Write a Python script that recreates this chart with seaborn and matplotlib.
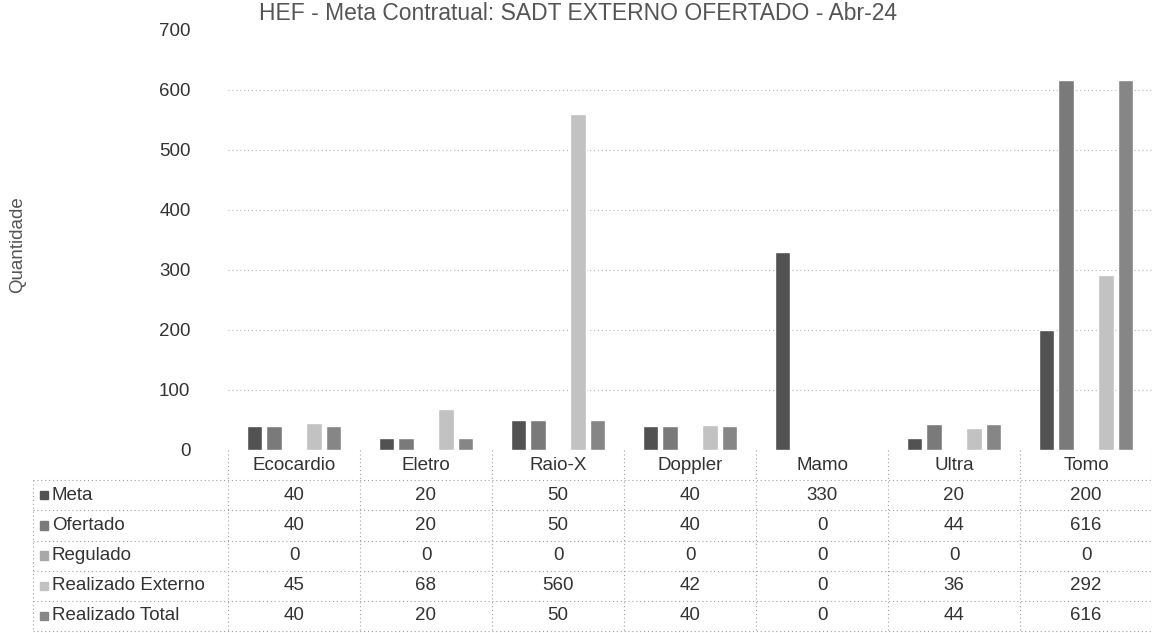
import matplotlib
matplotlib.use("Agg")
import matplotlib.pyplot as plt
import seaborn as sns
import pandas as pd
from matplotlib.patches import Rectangle

categories = ["Ecocardio", "Eletro", "Raio-X", "Doppler", "Mamo", "Ultra", "Tomo"]
series = ["Meta", "Ofertado", "Regulado", "Realizado Externo", "Realizado Total"]
meta = [40, 20, 50, 40, 330, 20, 200]
ofertado = [40, 20, 50, 40, 0, 44, 616]
regulado = [0, 0, 0, 0, 0, 0, 0]
realizado_externo = [45, 68, 560, 42, 0, 36, 292]
realizado_total = [40, 20, 50, 40, 0, 44, 616]
yticks = [0, 100, 200, 300, 400, 500, 600, 700]
title = "HEF - Meta Contratual: SADT EXTERNO OFERTADO - Abr-24"
ylabel = "Quantidade"

values = [meta, ofertado, regulado, realizado_externo, realizado_total]
colors = ["#525252", "#7a7a7a", "#a8a8a8", "#c2c2c2", "#868686"]

rows = []
for s, vals in zip(series, values):
    for c, v in zip(categories, vals):
        rows.append({"Categoria": c, "Serie": s, "Valor": v})
df = pd.DataFrame(rows)

sns.set_theme(style="white")
plt.rcParams["font.family"] = ["Liberation Sans", "DejaVu Sans"]

FS = 13.5
TXT = "#333333"
W, H = 1152, 633
fig = plt.figure(figsize=(W / 100, H / 100), dpi=100)
left, right = 228 / W, 1152 / W
ax = fig.add_axes([left, 1 - 450 / H, right - left, (450 - 30) / H])

sns.barplot(data=df, x="Categoria", y="Valor", hue="Serie", order=categories,
            hue_order=series, palette=colors, width=0.75, gap=0.22,
            saturation=1, legend=False, ax=ax)
ax.set_xlim(-0.5, len(categories) - 0.5)
ax.set_ylim(0, 700)
ax.set_yticks(yticks)
ax.set_yticklabels([str(t) for t in yticks], fontsize=FS, color=TXT)
ax.tick_params(axis="y", length=0, pad=27)
ax.set_xticks([])
ax.set_xlabel("")
ax.set_ylabel("")
for sp in ax.spines.values():
    sp.set_visible(False)
for t in yticks[:-1]:
    ax.axhline(t, linestyle=(0, (1, 2.5)), color="#b5b5b5", linewidth=0.8, zorder=0)

fig.text(578 / W, 1 - 13 / H, title, ha="center", va="center", fontsize=16.5, color="#555555")
fig.text(18 / W, 1 - 245 / H, ylabel, rotation=90, ha="center", va="center", fontsize=13.5, color="#555555")

# data table
tab = fig.add_axes([left, 1 - 631 / H, right - left, (631 - 450) / H])
n = len(categories)
tab.set_xlim(-0.5, n - 0.5)
tab.set_ylim(len(series) + 1, 0)
tab.axis("off")
col_w_px = (1152 - 228) / n
x_left = -0.5 - (228 - 33) / col_w_px
line_kw = dict(color="#a0a0a0", linestyle=(0, (1, 2.5)), linewidth=0.8, clip_on=False)
for r in range(1, len(series) + 2):
    tab.plot([x_left, n - 0.5], [r, r], **line_kw)
for k in range(n + 1):
    tab.plot([-0.5 + k, -0.5 + k], [0, len(series) + 1], **line_kw)
tab.plot([x_left, x_left], [1, len(series) + 1], **line_kw)

for i, c in enumerate(categories):
    tab.text(i, 0.5, c, ha="center", va="center", fontsize=FS, color=TXT)
for r, (s, vals, col) in enumerate(zip(series, values, colors), start=1):
    for i, v in enumerate(vals):
        tab.text(i, r + 0.5, str(v), ha="center", va="center", fontsize=FS, color=TXT)
    kx = x_left + 7 / col_w_px
    tab.add_patch(Rectangle((kx, r + 0.36), 8 / col_w_px, 0.28, color=col, clip_on=False))
    tab.text(kx + 12 / col_w_px, r + 0.5, s, ha="left", va="center", fontsize=FS, color=TXT)

fig.savefig("out.png", dpi=100)
